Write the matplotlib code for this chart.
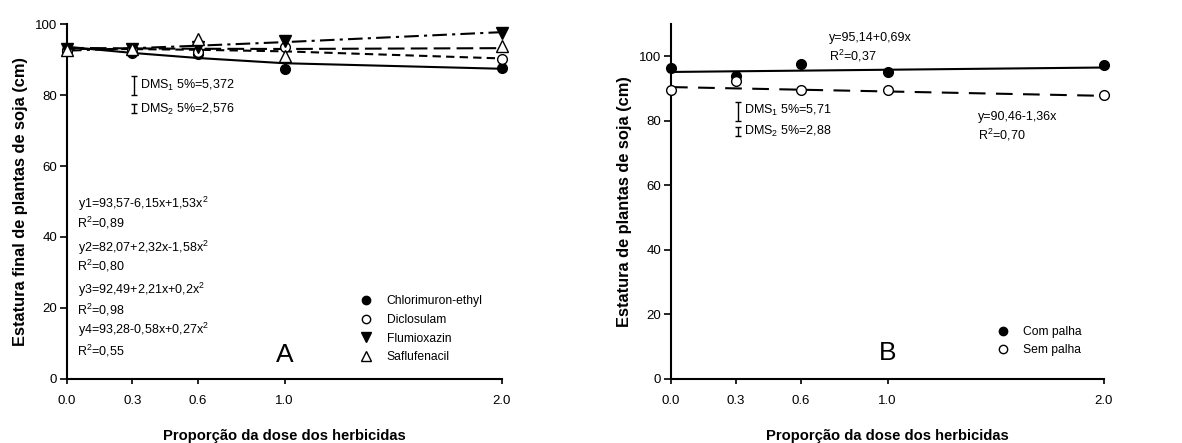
import matplotlib
matplotlib.use("Agg")
import matplotlib.pyplot as plt
from matplotlib.lines import Line2D

plt.rcParams['font.family'] = ['Liberation Sans', 'DejaVu Sans']
plt.rcParams['mathtext.fontset'] = 'custom'
plt.rcParams['mathtext.rm'] = 'Liberation Sans'
plt.rcParams['mathtext.it'] = 'Liberation Sans:italic'
plt.rcParams['mathtext.bf'] = 'Liberation Sans:bold'

# ---------------- data ----------------
doses = [0.0, 0.3, 0.6, 1.0, 2.0]
dose_ticks = ["0.0", "0.3", "0.6", "1.0", "2.0"]

# Panel A – observed means
chlorimuron = [92.8, 91.9, 91.5, 87.3, 87.5]
diclosulam = [92.5, 92.9, 92.0, 93.6, 90.1]
flumioxazin = [92.9, 93.0, 93.4, 95.3, 97.5]
saflufenacil = [92.7, 93.1, 95.7, 91.0, 93.7]

# Panel A – fitted curves read at the doses
fit_chlorimuron = [93.57, 91.86, 90.43, 88.95, 87.39]
fit_diclosulam = [93.0, 92.93, 92.74, 92.3, 90.3]
fit_flumioxazin = [92.49, 93.17, 93.89, 94.90, 97.71]
fit_saflufenacil = [93.28, 93.13, 93.03, 92.97, 93.20]

herbicides = ["Chlorimuron-ethyl", "Diclosulam", "Flumioxazin", "Saflufenacil"]

equations_A = ["y1=93,57-6,15x+1,53x$^2$", "y2=82,07+2,32x-1,58x$^2$",
               "y3=92,49+2,21x+0,2x$^2$", "y4=93,28-0,58x+0,27x$^2$"]
r2_A = ["R$^2$=0,89", "R$^2$=0,80", "R$^2$=0,98", "R$^2$=0,55"]

dms_A = [5.372, 2.576]
dms_A_labels = ["DMS$_1$ 5%=5,372", "DMS$_2$ 5%=2,576"]

# Panel B
com_palha = [96.4, 94.0, 97.5, 95.1, 97.4]
sem_palha = [89.7, 92.2, 89.6, 89.4, 87.9]
fit_com = [95.14, 95.35, 95.55, 95.83, 96.52]
fit_sem = [90.46, 90.05, 89.64, 89.10, 87.74]
palha_labels = ["Com palha", "Sem palha"]
dms_B = [5.71, 2.88]
dms_B_labels = ["DMS$_1$ 5%=5,71", "DMS$_2$ 5%=2,88"]

# ---------------- figure ----------------
fig = plt.figure(figsize=(11.82, 4.43), dpi=100)
axA = fig.add_axes([0.0567, 0.1445, 0.368, 0.8013])
axB = fig.add_axes([0.5677, 0.1445, 0.3663, 0.8013])

tick_fs = 9.5
txt_fs = 9

def style(ax, ymax):
    ax.set_xlim(0, 2.0)
    ax.set_ylim(0, ymax)
    ax.set_xticks(doses)
    ax.set_xticklabels(dose_ticks)
    ax.set_yticks([0, 20, 40, 60, 80, 100])
    for s in ("top", "right"):
        ax.spines[s].set_visible(False)
    for s in ("left", "bottom"):
        ax.spines[s].set_linewidth(1.5)
    ax.tick_params(axis="y", direction="out", length=5, width=1.2, labelsize=tick_fs, pad=2)
    ax.tick_params(axis="x", direction="out", length=3.5, width=1.2, labelsize=tick_fs, pad=8)
    ax.set_xlabel("Proporção da dose dos herbicidas", fontsize=10.6, fontweight="bold", labelpad=16)

style(axA, 100)
style(axB, 110)

lw = 1.5
msz = 7
# Panel A lines
axA.plot(doses, fit_chlorimuron, color="black", lw=lw, ls="-", zorder=2)
axA.plot(doses, fit_diclosulam, color="black", lw=lw, ls=(0, (4, 2.5)), zorder=2)
axA.plot(doses, fit_flumioxazin, color="black", lw=lw, ls=(0, (7, 2.5, 1.5, 2.5)), zorder=2)
axA.plot(doses, fit_saflufenacil, color="black", lw=lw, ls=(0, (8, 3)), zorder=2)

axA.plot(doses, chlorimuron, ls="none", marker="o", ms=msz, mfc="black", mec="black", zorder=3, clip_on=False)
axA.plot(doses, diclosulam, ls="none", marker="o", ms=msz, mfc="white", mec="black", mew=1, zorder=3, clip_on=False)
axA.plot(doses, flumioxazin, ls="none", marker="v", ms=msz + 1, mfc="black", mec="black", zorder=3, clip_on=False)
axA.plot(doses, saflufenacil, ls="none", marker="^", ms=msz + 1, mfc="white", mec="black", mew=1, zorder=3, clip_on=False)

# DMS bars A
x_bar = 0.31
axA.errorbar([x_bar], [82.6], yerr=[[dms_A[0] / 2], [dms_A[0] / 2]], color="black", lw=1, capsize=2.5, capthick=1)
axA.errorbar([x_bar], [76.1], yerr=[[dms_A[1] / 2], [dms_A[1] / 2]], color="black", lw=1, capsize=2.5, capthick=1)
axA.text(0.335, 82.8, dms_A_labels[0], fontsize=txt_fs, va="center", ha="left")
axA.text(0.335, 76.0, dms_A_labels[1], fontsize=txt_fs, va="center", ha="left")

eq_y = [49.3, 36.9, 25.0, 13.8]
r2_y = [44.0, 31.8, 19.4, 7.9]
for e, r, ye, yr in zip(equations_A, r2_A, eq_y, r2_y):
    axA.text(0.05, ye, e, fontsize=txt_fs, va="center", ha="left")
    axA.text(0.045, yr, r, fontsize=txt_fs, va="center", ha="left")

axA.text(1.0, 6.8, "A", fontsize=19, ha="center", va="center")

handlesA = [
    Line2D([], [], ls="none", marker="o", ms=msz - 1, mfc="black", mec="black"),
    Line2D([], [], ls="none", marker="o", ms=msz - 1, mfc="white", mec="black"),
    Line2D([], [], ls="none", marker="v", ms=msz, mfc="black", mec="black"),
    Line2D([], [], ls="none", marker="^", ms=msz, mfc="white", mec="black"),
]
axA.legend(handlesA, herbicides, loc="upper left", bbox_to_anchor=(0.66, 0.253), frameon=False,
           fontsize=8.7, handlelength=1.0, handletextpad=1.2, labelspacing=0.55, borderpad=0)
axA.set_ylabel("Estatura final de plantas de soja (cm)", fontsize=11.8, fontweight="bold", labelpad=5)

# Panel B
axB.plot(doses, fit_com, color="black", lw=lw, ls="-", zorder=2)
axB.plot(doses, fit_sem, color="black", lw=lw, ls=(0, (8, 5)), zorder=2)
axB.plot(doses, com_palha, ls="none", marker="o", ms=msz, mfc="black", mec="black", zorder=3, clip_on=False)
axB.plot(doses, sem_palha, ls="none", marker="o", ms=msz, mfc="white", mec="black", mew=1, zorder=3, clip_on=False)

axB.errorbar([x_bar], [82.9], yerr=[[dms_B[0] / 2], [dms_B[0] / 2]], color="black", lw=1, capsize=2.5, capthick=1)
axB.errorbar([x_bar], [76.8], yerr=[[dms_B[1] / 2], [dms_B[1] / 2]], color="black", lw=1, capsize=2.5, capthick=1)
axB.text(0.335, 83.1, dms_B_labels[0], fontsize=txt_fs, va="center", ha="left")
axB.text(0.335, 76.8, dms_B_labels[1], fontsize=txt_fs, va="center", ha="left")

axB.text(0.73, 105.8, "y=95,14+0,69x", fontsize=txt_fs, va="center", ha="left")
axB.text(0.73, 100.1, "R$^2$=0,37", fontsize=txt_fs, va="center", ha="left")
axB.text(1.418, 81.2, "y=90,46-1,36x", fontsize=txt_fs, va="center", ha="left")
axB.text(1.418, 75.6, "R$^2$=0,70", fontsize=txt_fs, va="center", ha="left")

axB.text(1.0, 8.0, "B", fontsize=19, ha="center", va="center")

handlesB = [
    Line2D([], [], ls="none", marker="o", ms=msz - 1, mfc="black", mec="black"),
    Line2D([], [], ls="none", marker="o", ms=msz - 1, mfc="white", mec="black"),
]
axB.legend(handlesB, palha_labels, loc="upper left", bbox_to_anchor=(0.738, 0.167), frameon=False,
           fontsize=8.7, handlelength=1.0, handletextpad=1.2, labelspacing=0.55, borderpad=0)
axB.set_ylabel("Estatura de plantas de soja (cm)", fontsize=11.8, fontweight="bold", labelpad=5)

fig.savefig("out.png", dpi=100)
